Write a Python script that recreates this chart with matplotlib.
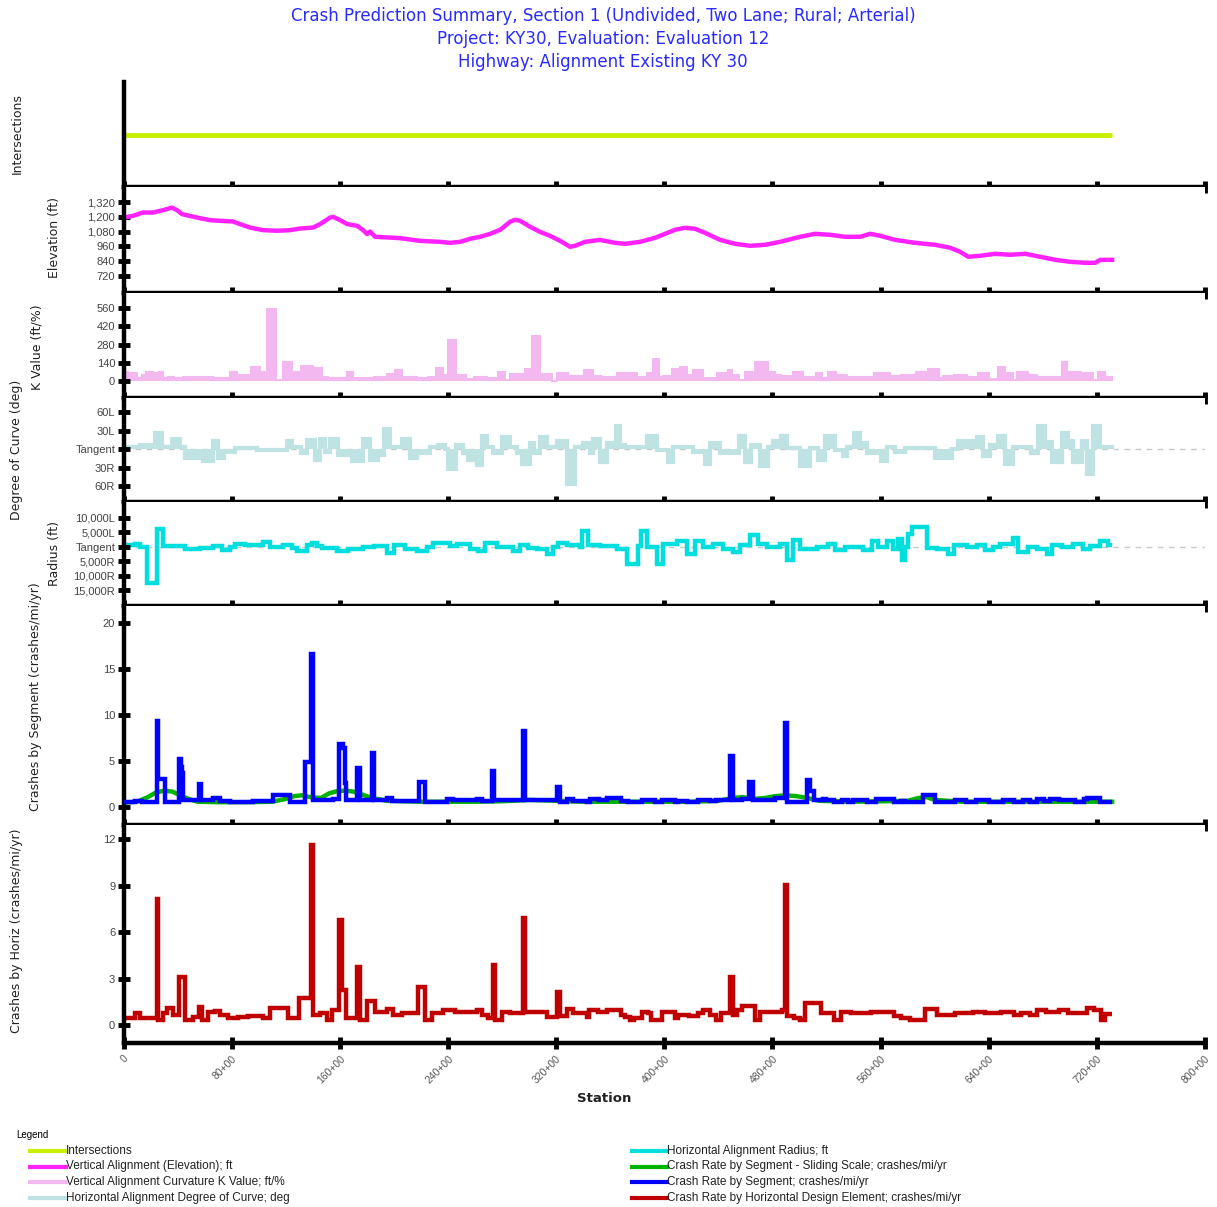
import matplotlib
matplotlib.use("Agg")
import matplotlib.pyplot as plt
from matplotlib.lines import Line2D

plt.rcParams['font.family'] = ['Liberation Sans', 'DejaVu Sans']

# ---------------- data (stations in hundreds of feet) ----------------
station_ticks = [0, 80, 160, 240, 320, 400, 480, 560, 640, 720, 800]
station_labels = ['0', '80+00', '160+00', '240+00', '320+00', '400+00',
                  '480+00', '560+00', '640+00', '720+00', '800+00']
end_sta = 731.3

inter_sta = [0, end_sta]
inter_val = [0.5, 0.5]

elev_sta = [0, 7, 14.4, 21.8, 29.2, 35.9, 39.6, 43.3, 48.8, 56.6,
            64, 71.4, 81, 86.2, 93.6, 103.2, 113.6, 123.2, 130.6, 140.2,
            145.4, 152.8, 155, 160.2, 165.4, 172.8, 177.2, 180.2, 182.4, 186.1,
            204.6, 219.4, 234.2, 241.6, 249, 256.4, 263.8, 271.2, 278.6, 282.3,
            286, 289.7, 293.4, 300.8, 308.1, 315.5, 322.9, 330.3, 334, 341.4,
            352.5, 363.6, 371, 382.1, 393.2, 400.6, 408, 415.4, 422.8, 430.2,
            441.3, 452.4, 463.5, 474.6, 485.7, 500.5, 511.6, 522.7, 533.8, 544.9,
            552.3, 559.7, 570.8, 585.6, 600.4, 611.5, 618.9, 624.8, 633.7, 644.8,
            655.9, 667, 678.1, 689.2, 700.3, 711.4, 718.8, 722.5, 731.3]
elev_val = [1194, 1208, 1235, 1235, 1254, 1275, 1254, 1222, 1208, 1189,
            1173, 1168, 1162, 1141, 1113, 1092, 1087, 1092, 1105, 1113,
            1141, 1194, 1200, 1173, 1141, 1127, 1092, 1060, 1081, 1038,
            1027, 1005, 997, 989, 997, 1022, 1038, 1062, 1095, 1127,
            1160, 1176, 1168, 1119, 1078, 1046, 1005, 957, 965, 997,
            1013, 989, 981, 997, 1030, 1062, 1095, 1111, 1103, 1070,
            1013, 981, 965, 973, 997, 1038, 1062, 1054, 1038, 1038,
            1062, 1046, 1013, 989, 973, 949, 916, 876, 884, 900,
            892, 900, 876, 851, 835, 827, 827, 851, 851]

k_sta = [0, 3, 10, 14, 17, 22, 26, 29, 33, 37,
         44, 66, 79, 84, 94, 101, 106, 113, 118, 125,
         131, 140, 147, 151, 165, 170, 185, 190, 195, 201,
         206, 217, 225, 231, 236, 240, 246, 253, 259, 269,
         277, 282, 286, 297, 302, 308, 317, 321, 329, 341,
         347, 353, 355, 365, 380, 387, 392, 396, 399, 406,
         412, 417, 421, 429, 439, 447, 450, 455, 460, 467,
         477, 482, 486, 495, 503, 512, 517, 521, 527, 535,
         555, 567, 575, 586, 595, 603, 606, 614, 624, 632,
         640, 647, 652, 658, 661, 669, 676, 694, 698, 708,
         717, 721, 726]
k_val = [71, 59, 20, 46, 71, 59, 71, 20, 33, 20,
         33, 20, 71, 46, 110, 71, 551, 8, 148, 71,
         115, 102, 33, 20, 71, 20, 33, 28, 54, 84,
         28, 20, 33, 97, 48, 314, 48, 13, 33, 20,
         72, 8, 54, 89, 347, 54, 3, 64, 38, 84,
         38, 13, 28, 64, 28, 64, 168, 28, 38, 89,
         110, 48, 84, 20, 59, 84, 48, 8, 72, 148,
         72, 48, 38, 72, 28, 59, 20, 72, 48, 28,
         59, 38, 48, 72, 92, 20, 38, 48, 33, 64,
         13, 105, 59, 8, 72, 48, 28, 148, 72, 59,
         8, 72, 28]

# degree of curve: + = left, - = right
deg_sta = [0, 12, 23, 28.5, 36, 42, 45.5, 59, 66, 70,
           74, 82.5, 99, 111, 121, 125, 131, 136, 142, 145,
           149, 153, 159, 169, 177, 182, 188, 193, 197, 206,
           212, 217, 227, 233, 238, 240, 246, 251, 255, 261.5,
           265, 269, 273, 280, 286, 291, 295, 301, 304, 308,
           313, 321, 328, 334, 340, 345, 347, 352.5, 358, 364,
           367, 371, 387, 395, 403, 406.5, 421, 430, 434, 441,
           455, 460, 464, 471, 477, 480.5, 486, 491, 500.5, 508,
           514, 519, 526, 532, 535, 540, 545, 550, 560, 565,
           571, 578, 600.5, 613, 617, 631.5, 636, 641, 647, 652,
           658, 671, 676.5, 682, 687, 694, 699, 702, 709, 713,
           717, 722]
deg_val = [4, 7, 26, 4, 16, 4, -15, -19, 13, -15,
           -4, 2, -1, -2, 13, 4, -6, 15, -17, 17,
           -4, 17, -10, -19, 17, -18, -10, 32, 3, 16,
           -14, -7, 3, 7, 0, -32, 7, -7, -18, -26,
           21, 4, -7, 19, 4, -7, -24, 10, -7, 19,
           4, 13, -56, 4, 10, -7, 16, -21, 10, 37,
           7, 3, 21, -1, -21, 4, -4, -24, 10, -7,
           21, -21, 7, -28, 4, 13, 22, 2, -28, 2,
           -17, 21, -1, -11, 4, 26, 10, -6, -19, 4,
           -4, 2, -15, 0, 13, 19, -11, 7, 21, -24,
           4, -7, 37, 11, -21, 26, 13, -21, 13, -41,
           37, 4]

# radius (ft): + = left, - = right
rad_sta = [0, 8.5, 12, 17.4, 25, 29, 45.5, 56.6, 66, 73,
           79, 82.5, 90, 96, 103, 108, 118, 125, 128, 136,
           139.5, 143, 147, 158, 166, 177, 185, 195, 200, 208,
           217, 224.5, 229, 241.6, 247, 256, 262, 267.5, 276, 288,
           293, 299, 306, 313, 318, 321.5, 328, 338, 339, 343.6,
           352.5, 365, 372.5, 380.6, 383, 387, 394.6, 399, 409.5, 417,
           423, 429, 436, 443.6, 451, 456, 463.5, 469, 476, 485.7,
           491, 495, 500.5, 513, 521, 526, 534, 547, 554, 558,
           565, 569, 573, 576, 578, 580, 583.4, 594.5, 602, 610,
           614, 624, 631.5, 637, 643, 648.5, 658, 662, 669, 676,
           683, 687, 694, 702.5, 710, 715, 722.5, 728.4]
rad_val = [700, 1150, 0, -12400, 6300, 230, -800, -230, 345, -1150,
           0, 1150, 575, 690, 1840, 0, 690, -460, -1380, 690,
           1500, 345, -230, -1380, -800, 0, 345, -2000, 800, -575,
           -1380, 0, 1380, 460, 1150, -575, -1380, 1380, 0, -1380,
           575, -230, -575, -2530, 0, 1380, 575, 0, 5520, 575,
           230, -575, -5750, 230, 5520, 0, -5750, 920, 2070, -2300,
           2070, 0, 1150, -575, -1720, 575, 4025, 1150, 0, 1000,
           -4600, 2300, -575, 0, 1150, -1150, 0, -1150, 2070, 0,
           2070, -575, 2875, -4600, 0, 4600, 6900, -230, -575, -2300,
           575, 0, 575, -920, 0, 920, 3220, -1720, 0, -575,
           -2300, 575, 0, 920, -575, 230, 2070, 575]

seg_sta = [0, 8.5, 13.7, 24.5, 25.8, 31, 40.8, 42.5, 43.5, 44.2,
           55.5, 57, 66, 71.4, 78.8, 95.8, 110.6, 123, 134.5, 138.5,
           140, 155.3, 159.5, 162.7, 163.8, 164.8, 172.5, 175, 183.7, 185.5,
           195, 198.6, 218.5, 223, 239.3, 244, 261.5, 265, 272.3, 274.3,
           295.7, 296.9, 320.3, 323, 328, 332.5, 343, 345, 352, 357.7,
           368, 373, 383.6, 393, 398.4, 408, 410.3, 417, 425, 434,
           438.3, 448.3, 450.5, 457.5, 463, 466, 482, 489.5, 491, 505.3,
           508, 511, 517.4, 519.6, 525.6, 531.4, 536, 539.6, 550, 556.6,
           570, 575, 578, 591.4, 600.3, 615, 623, 630.6, 640, 650.6,
           659, 665.5, 670.6, 676, 681, 685.4, 692, 704, 710.6, 713,
           722.5]
seg_val = [0.54, 0.69, 0.54, 9.3, 3.1, 0.54, 5.2, 4.4, 3.75, 0.8,
           2.5, 0.8, 1.0, 0.72, 0.54, 0.69, 1.34, 0.61, 4.9, 16.6,
           0.8, 0.9, 6.9, 6.4, 2.6, 0.8, 4.2, 0.8, 5.9, 0.8,
           1.0, 0.69, 2.7, 0.61, 0.9, 0.8, 0.9, 0.69, 3.9, 0.8,
           8.3, 0.8, 2.2, 0.61, 0.94, 0.72, 0.54, 0.9, 0.8, 1.0,
           0.69, 0.54, 0.8, 0.61, 0.8, 0.54, 0.69, 0.61, 0.8, 0.69,
           0.8, 5.6, 0.8, 0.9, 2.7, 0.8, 1.0, 9.1, 0.54, 3.0,
           1.8, 0.8, 0.9, 0.8, 0.54, 0.8, 0.54, 0.8, 0.61, 0.87,
           0.54, 0.69, 0.61, 1.34, 0.61, 0.8, 0.61, 0.8, 0.61, 0.8,
           0.61, 0.8, 0.61, 0.94, 0.69, 0.87, 0.8, 0.61, 0.87, 1.0,
           0.61]

slide_sta = [0, 10, 18, 24, 30, 36, 42, 48, 55, 70,
             90, 110, 120, 126, 132, 138, 146, 152, 158, 164,
             170, 176, 184, 195, 220, 260, 280, 300, 320, 340,
             380, 420, 440, 450, 458, 466, 474, 482, 490, 498,
             506, 515, 540, 580, 588, 594, 600, 620, 680, end_sta]
slide_val = [0.5, 0.6, 1.1, 1.6, 1.8, 1.7, 1.3, 0.9, 0.6, 0.55,
             0.55, 0.6, 0.9, 1.2, 1.3, 1.1, 1.0, 1.5, 1.75, 1.8,
             1.7, 1.4, 1.0, 0.7, 0.6, 0.6, 0.65, 0.8, 0.7, 0.6,
             0.6, 0.6, 0.7, 1.0, 1.1, 0.9, 1.0, 1.2, 1.3, 1.2,
             1.0, 0.7, 0.6, 0.7, 1.0, 1.1, 0.8, 0.6, 0.6, 0.6]

horiz_sta = [0, 8.5, 12, 24.5, 25.8, 29, 32, 36.6, 40.8, 45.8,
             51.4, 55.5, 57.8, 62.5, 67.7, 71.4, 77.3, 84.7, 92, 103,
             108.4, 121.7, 129.5, 138.5, 140.2, 145.4, 150.6, 154.3, 159.2, 161.5,
             164.8, 172.5, 175.3, 180, 186, 195, 199.4, 206, 218.2, 223.3,
             228, 236.4, 245, 261.5, 265, 269.6, 273.2, 274.8, 280, 286,
             295.7, 296.9, 308, 313.3, 320.4, 323.2, 328, 332.5, 343, 344.4,
             351, 357.7, 368, 371, 374.7, 377.7, 383.6, 388, 390, 398.4,
             408, 410.3, 418.3, 425, 428.7, 434, 438.3, 442, 448.3, 450.5,
             453.8, 457.5, 467, 470.8, 487, 489.5, 491, 496, 500.5, 504,
             516, 525.6, 530.8, 538, 553, 570, 575, 582, 592.8, 601.7,
             615, 628.4, 637.3, 649, 658.8, 664, 670.6, 675.8, 682.5, 692,
             698.8, 709, 712.8, 718, 723, 726]
horiz_val = [0.47, 0.75, 0.47, 8.15, 0.32, 0.75, 1.08, 0.65, 3.1, 0.32,
             0.54, 1.19, 0.32, 0.82, 0.9, 0.65, 0.47, 0.54, 0.58, 0.47,
             1.12, 0.47, 1.75, 11.6, 0.65, 0.75, 0.32, 0.97, 6.8, 2.26,
             0.43, 3.77, 0.32, 1.55, 0.86, 1.03, 0.65, 0.75, 2.48, 0.32,
             0.75, 0.97, 0.82, 0.97, 0.65, 0.43, 3.9, 0.32, 0.86, 0.75,
             6.9, 0.82, 0.86, 0.54, 2.16, 0.6, 1.03, 0.75, 0.54, 0.97,
             0.82, 0.97, 0.65, 0.54, 0.32, 0.47, 0.86, 0.75, 0.32, 0.86,
             0.47, 0.65, 0.58, 0.75, 0.97, 0.65, 0.32, 0.8, 3.1, 0.65,
             0.97, 1.25, 0.32, 0.86, 0.97, 9.05, 0.6, 0.47, 0.32, 1.4,
             0.75, 0.32, 0.86, 0.8, 0.86, 0.6, 0.47, 0.32, 1.03, 0.65,
             0.75, 0.86, 0.8, 0.86, 0.65, 0.75, 0.65, 0.97, 0.86, 0.97,
             0.8, 0.75, 1.08, 0.97, 0.32, 0.7]

# ---------------- layout ----------------
W, H = 1217, 1207
fig = plt.figure(figsize=(W / 100, H / 100), dpi=100)
fig.patch.set_facecolor('white')

x0, x1 = 123.5, 1205
tops = [82, 187, 293, 398, 502, 606, 825]
bots = [187, 293, 398, 502, 606, 825, 1043]
tick_col = '#444444'

axes = []
for t, b in zip(tops, bots):
    ax = fig.add_axes([x0 / W, 1 - b / H, (x1 - x0) / W, (b - t) / H])
    ax.set_xlim(0, 800)
    ax.spines['top'].set_visible(False)
    ax.spines['right'].set_visible(False)
    ax.spines['left'].set_linewidth(3.2)
    ax.spines['bottom'].set_linewidth(3.2)
    ax.set_xticks(station_ticks)
    ax.tick_params(axis='x', direction='inout', length=8, width=3.5,
                   labelbottom=False)
    ax.tick_params(axis='y', direction='inout', length=8, width=3.5,
                   labelsize=8, labelcolor=tick_col, pad=2)
    axes.append(ax)

ax_int, ax_el, ax_k, ax_deg, ax_rad, ax_seg, ax_hz = axes


def edges(starts):
    return list(starts) + [end_sta]


# intersections
ax_int.plot(inter_sta, inter_val, color='#c6f000', lw=3.5, solid_capstyle='butt')
ax_int.set_ylim(0, 1)
ax_int.set_yticks([])

# elevation
ax_el.plot(elev_sta, elev_val, color='#ff22ff', lw=3.2)
ax_el.set_ylim(582, 1442)
ax_el.set_yticks([720, 840, 960, 1080, 1200, 1320])
ax_el.set_yticklabels(['720', '840', '960', '1,080', '1,200', '1,320'])

# K value
ax_k.stairs(k_val, edges(k_sta), baseline=0, fill=True, color='#f4b8f0')
ax_k.stairs(k_val, edges(k_sta), baseline=0, color='#f4b8f0', lw=1.5)
ax_k.set_ylim(-130, 675)
ax_k.set_yticks([0, 140, 280, 420, 560])

# degree of curve
ax_deg.axhline(0, color='#c8c8c8', lw=1, ls=(0, (4, 4)), zorder=0)
ax_deg.stairs(deg_val, edges(deg_sta), baseline=0, fill=True, color='#bfe3e3')
ax_deg.stairs(deg_val, edges(deg_sta), baseline=0, color='#bfe3e3', lw=3)
ax_deg.set_ylim(-86, 83)
ax_deg.set_yticks([-60, -30, 0, 30, 60])
ax_deg.set_yticklabels(['60R', '30R', 'Tangent', '30L', '60L'])

# radius
ax_rad.axhline(0, color='#c8c8c8', lw=1, ls=(0, (4, 4)), zorder=0)
ax_rad.stairs(rad_val, edges(rad_sta), baseline=None, color='#00dede', lw=3.2)
ax_rad.set_ylim(-20345, 15517)
ax_rad.set_yticks([-15000, -10000, -5000, 0, 5000, 10000])
ax_rad.set_yticklabels(['15,000R', '10,000R', '5,000R', 'Tangent', '5,000L', '10,000L'])

# crashes by segment
ax_seg.plot(slide_sta, slide_val, color='#00b400', lw=3.2, zorder=1)
ax_seg.stairs(seg_val, edges(seg_sta), baseline=None, color='#0000ff', lw=3.2,
              zorder=3)
ax_seg.set_ylim(-1.92, 21.8)
ax_seg.set_yticks([0, 5, 10, 15, 20])

# crashes by horizontal element
ax_hz.stairs(horiz_val, edges(horiz_sta), baseline=None, color='#c00000', lw=3.2)
ax_hz.set_ylim(-1.16, 12.92)
ax_hz.set_yticks([0, 3, 6, 9, 12])
ax_hz.tick_params(axis='x', labelbottom=True, labelsize=7.5, labelcolor='#555555')
ax_hz.set_xticklabels(station_labels, rotation=45, ha='right',
                      rotation_mode='anchor')

# ---------------- texts ----------------
title_col = '#2a2aff'
title_lines = ['Crash Prediction Summary, Section 1 (Undivided, Two Lane; Rural; Arterial)',
               'Project: KY30, Evaluation: Evaluation 12',
               'Highway: Alignment Existing KY 30']
for line, ty in zip(title_lines, [16, 39, 62]):
    fig.text(603 / W, 1 - ty / H, line, ha='center', va='center', fontsize=12,
             color=title_col, family='DejaVu Sans')

ylabels = [('Intersections', 17, 134), ('Elevation (ft)', 55, 238),
           ('K Value (ft/%)', 37, 347), ('Degree of Curve (deg)', 17, 450),
           ('Radius (ft)', 55, 554), ('Crashes by Segment (crashes/mi/yr)', 36, 697),
           ('Crashes by Horiz (crashes/mi/yr)', 17, 931)]
for txt, px, py in ylabels:
    fig.text(px / W, 1 - py / H, txt, rotation=90, ha='center', va='center',
             fontsize=9, color='#222222', family='DejaVu Sans')

fig.text(604 / W, 1 - 1098 / H, 'Station', ha='center', va='center',
         fontsize=9.5, fontweight='bold', color='#222222', family='DejaVu Sans')

# ---------------- legend ----------------
leg_font = ['Liberation Sans Narrow', 'Liberation Sans', 'DejaVu Sans']
fig.text(16 / W, 1 - 1135 / H, 'Legend', ha='left', va='center', fontsize=7,
         family=leg_font)
legend_left = [('#c6f000', 'Intersections'),
               ('#ff22ff', 'Vertical Alignment (Elevation); ft'),
               ('#f4b8f0', 'Vertical Alignment Curvature K Value; ft/%'),
               ('#bfe3e3', 'Horizontal Alignment Degree of Curve; deg')]
legend_right = [('#00dede', 'Horizontal Alignment Radius; ft'),
                ('#00b400', 'Crash Rate by Segment - Sliding Scale; crashes/mi/yr'),
                ('#0000ff', 'Crash Rate by Segment; crashes/mi/yr'),
                ('#c00000', 'Crash Rate by Horizontal Design Element; crashes/mi/yr')]
rows = [1151, 1166.5, 1182, 1197.5]
for col, items in [((30, 66), legend_left), ((632, 667), legend_right)]:
    for (c, label), ry in zip(items, rows):
        yy = 1 - ry / H
        fig.add_artist(Line2D([col[0] / W, col[1] / W], [yy, yy], color=c, lw=3,
                              transform=fig.transFigure))
        fig.text(col[1] / W, yy, label, ha='left', va='center', fontsize=8.5,
                 family=leg_font, color='#222222')

fig.savefig('out.png', dpi=100, facecolor='white')
